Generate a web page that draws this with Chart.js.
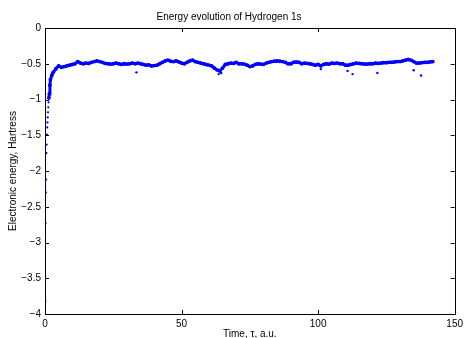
<!DOCTYPE html>
<html>
<head>
<meta charset="utf-8">
<script src="https://cdn.jsdelivr.net/npm/chart.js@4/dist/chart.umd.min.js"></script>
<style>
html,body{margin:0;padding:0;background:#fff;}
#wrap{width:467px;height:338px;}
</style>
</head>
<body>
<div id="wrap"><canvas id="c" width="467" height="338"></canvas></div>
<script>
// ---- data ----
const chartTitle = "Energy evolution of Hydrogen 1s";
const xTitle = "Time, \u03c4, a.u.";
const yTitle = "Electronic energy, Hartress";
const xTicks = [0, 50, 100, 150];
const yTicks = [0, -0.5, -1, -1.5, -2, -2.5, -3, -3.5, -4];

// early transient (isolated dots)
const timeEarly = [0.1, 0.2, 0.3, 0.4, 0.5, 0.6, 0.7, 0.8, 0.9, 1.0, 1.1, 1.2, 1.3];
const energyEarly = [-3.82, -2.73, -2.30, -2.12, -1.75, -1.63, -1.49, -1.39, -1.32, -1.25, -1.18, -1.11, -1.04];

// main band
const timeMain = [1.4, 1.6, 1.8, 2.0, 2.5, 3, 4, 5, 6, 7, 8, 9, 10, 11, 12, 13, 14, 15, 16, 17, 18, 19, 20,
  21, 22, 23, 24, 25, 26, 27, 28, 29, 30, 31, 32, 33, 34, 35, 36, 37, 38, 39, 40,
  41, 42, 43, 44, 45, 46, 47, 48, 49, 50, 51, 52, 53, 54, 55, 56, 57, 58, 59, 60,
  61, 62, 63, 64, 65, 66, 67, 68, 69, 70, 71, 72, 73, 74, 75, 76, 77, 78, 79, 80,
  81, 82, 83, 84, 85, 86, 87, 88, 89, 90, 91, 92, 93, 94, 95, 96, 97, 98, 99, 100,
  101, 102, 103, 104, 105, 106, 107, 108, 109, 110, 111, 112, 113, 114, 115, 116, 117, 118, 119, 120,
  121, 122, 123, 124, 125, 126, 127, 128, 129, 130, 131, 132, 133, 134, 135, 136, 137, 138, 139, 140,
  141, 142];
const energyMain = [-0.98, -0.92, -0.80, -0.72, -0.66, -0.62, -0.57, -0.53, -0.55, -0.54, -0.53, -0.52, -0.51, -0.50, -0.47, -0.49, -0.50, -0.49, -0.495, -0.48, -0.47, -0.46, -0.47,
  -0.48, -0.495, -0.50, -0.505, -0.50, -0.49, -0.50, -0.51, -0.50, -0.505, -0.50, -0.49, -0.50, -0.49, -0.50, -0.51, -0.52, -0.515, -0.53, -0.525,
  -0.52, -0.50, -0.48, -0.46, -0.45, -0.465, -0.47, -0.46, -0.475, -0.49, -0.50, -0.48, -0.46, -0.45, -0.47, -0.48, -0.49, -0.50, -0.51, -0.52,
  -0.53, -0.56, -0.585, -0.60, -0.56, -0.51, -0.50, -0.49, -0.495, -0.48, -0.50, -0.50, -0.505, -0.52, -0.54, -0.53, -0.51, -0.50, -0.505, -0.51,
  -0.49, -0.48, -0.47, -0.465, -0.46, -0.465, -0.47, -0.48, -0.50, -0.50, -0.48, -0.475, -0.48, -0.50, -0.49, -0.495, -0.50, -0.51, -0.52, -0.51,
  -0.53, -0.51, -0.50, -0.505, -0.49, -0.495, -0.49, -0.50, -0.50, -0.52, -0.52, -0.51, -0.50, -0.49, -0.495, -0.50, -0.505, -0.505, -0.50, -0.50,
  -0.49, -0.495, -0.49, -0.485, -0.485, -0.48, -0.48, -0.475, -0.47, -0.47, -0.46, -0.45, -0.44, -0.45, -0.47, -0.49, -0.49, -0.485, -0.48, -0.48,
  -0.475, -0.47];

// scattered outliers below the band
const timeOut = [33.5, 63.6, 64.5, 101, 110.8, 112.6, 121.7, 135, 137.7];
const energyOut = [-0.62, -0.645, -0.63, -0.575, -0.60, -0.645, -0.63, -0.59, -0.665];

const toPts = (xs, ys) => xs.map((x, i) => ({x: x, y: ys[i]}));
const fmt = v => (Math.abs(v) < 1e-9 ? "0" : String(v).replace("-", "\u2212"));

const boxTicks = {
  id: 'boxTicks',
  afterDatasetsDraw(chart) {
    const {ctx, chartArea: a, scales: {x, y}} = chart;
    ctx.save();
    ctx.strokeStyle = '#000';
    ctx.lineWidth = 1;
    ctx.beginPath();
    ctx.rect(Math.round(a.left) + 0.5, Math.round(a.top) + 0.5, Math.round(a.right - a.left), Math.round(a.bottom - a.top));
    ctx.stroke();
    const L = 4;
    ctx.beginPath();
    xTicks.forEach(v => {
      const px = Math.round(x.getPixelForValue(v)) + 0.5;
      ctx.moveTo(px, a.bottom); ctx.lineTo(px, a.bottom - L);
      ctx.moveTo(px, a.top); ctx.lineTo(px, a.top + L);
    });
    yTicks.forEach(v => {
      const py = Math.round(y.getPixelForValue(v)) + 0.5;
      ctx.moveTo(a.left, py); ctx.lineTo(a.left + L, py);
      ctx.moveTo(a.right, py); ctx.lineTo(a.right - L, py);
    });
    ctx.stroke();
    ctx.restore();
  }
};

const font = {family: "'Liberation Sans', Arial, sans-serif", size: 10, weight: 'normal'};

new Chart(document.getElementById('c'), {
  type: 'scatter',
  data: {
    datasets: [
      {data: toPts(timeMain, energyMain), showLine: true, borderColor: '#0000ff', borderWidth: 3,
       pointRadius: 1.9, pointBackgroundColor: '#0000ff', pointBorderWidth: 0, tension: 0},
      {data: toPts(timeEarly, energyEarly), showLine: false, pointRadius: 1.1,
       pointBackgroundColor: '#0000ff', pointBorderWidth: 0},
      {data: toPts(timeOut, energyOut), showLine: false, pointRadius: 1.2,
       pointBackgroundColor: '#0000ff', pointBorderWidth: 0}
    ]
  },
  options: {
    responsive: false,
    animation: false,
    layout: {padding: {left: 0, right: 9, top: 0, bottom: 0}},
    plugins: {
      legend: {display: false},
      tooltip: {enabled: false},
      title: {display: true, text: chartTitle, color: '#000', font: font, padding: {top: 11, bottom: 5}}
    },
    scales: {
      x: {
        type: 'linear', min: 0, max: 150,
        afterBuildTicks: s => { s.ticks = xTicks.map(v => ({value: v})); },
        afterFit: s => { s.height = 24; },
        grid: {display: false, drawTicks: false},
        border: {display: false},
        ticks: {color: '#000', font: font, padding: 4, maxRotation: 0, callback: v => fmt(v)},
        title: {display: true, text: xTitle, color: '#000', font: {...font, lineHeight: 1}, padding: {top: 0, bottom: -1}}
      },
      y: {
        type: 'linear', min: -4, max: 0,
        afterBuildTicks: s => { s.ticks = yTicks.map(v => ({value: v})); },
        afterFit: s => { s.width = 45; },
        grid: {display: false, drawTicks: false},
        border: {display: false},
        ticks: {color: '#000', font: font, padding: 4, callback: v => fmt(v)},
        title: {display: true, text: yTitle, color: '#000', font: {...font, lineHeight: 1}, padding: {top: 8, bottom: 0}}
      }
    }
  },
  plugins: [boxTicks]
});
</script>
</body>
</html>
